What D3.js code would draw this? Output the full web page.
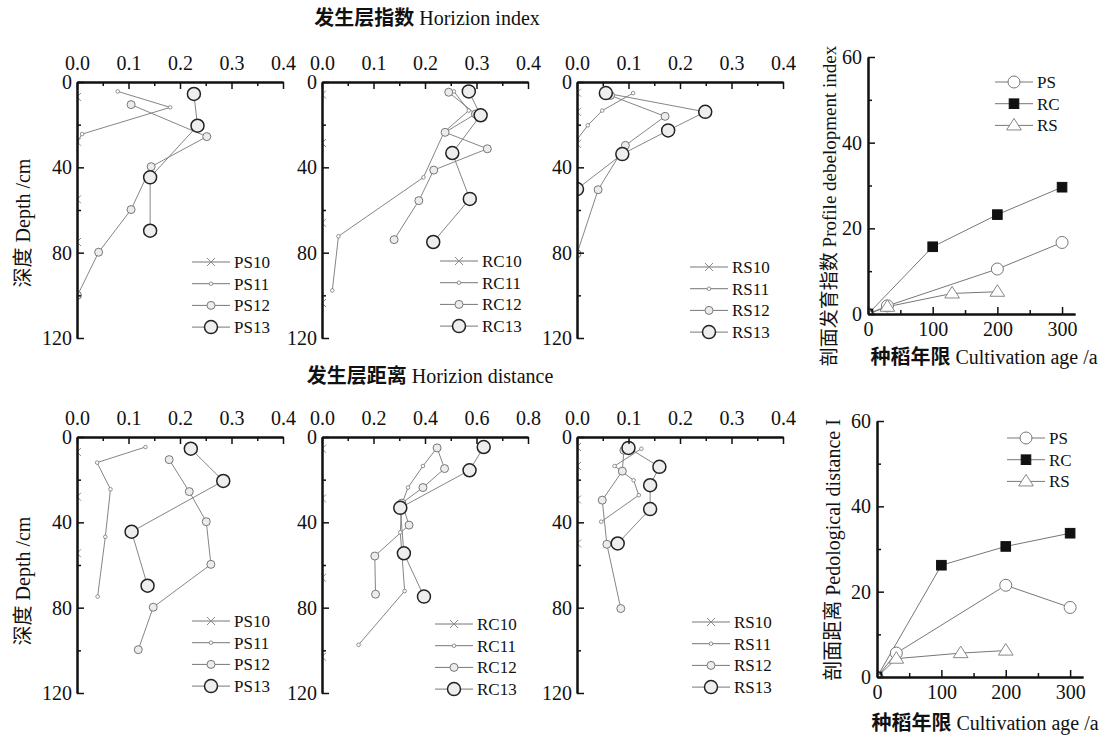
<!DOCTYPE html>
<html>
<head>
<meta charset="utf-8">
<script src="https://cdn.jsdelivr.net/npm/d3@7"></script>
<style>
body { margin: 0; background: #fff; }
svg text { font-family: "Liberation Serif", "Noto Sans CJK SC", serif; }
svg tspan.cjk { font-family: "Noto Sans CJK SC", sans-serif; }
</style>
</head>
<body>
<svg width="1105" height="736"></svg>
<script>
// depth profile data, each point is [value, depth cm]
// horizon index
var hiPS10 = [[0,7],[0,28],[0,55],[0,75]];
var hiPS11 = [[0.079,4.4],[0.181,11.9],[0.01,24.4],[0,28]];
var hiPS12 = [[0.105,10.6],[0.252,25.6],[0.144,39.7],[0.105,59.8],[0.042,79.8],[0.001,100]];
var hiPS13 = [[0.227,5.6],[0.234,20.5],[0.142,44.7],[0.142,69.7]];

var hiRC10 = [[0,5.9],[0,28.6],[0,66],[0,103.6]];
var hiRC11 = [[0.256,4.4],[0.285,13.4],[0.237,23.5],[0.197,44.7],[0.032,72.3],[0.02,97.7]];
var hiRC12 = [[0.246,4.8],[0.298,15],[0.239,23.6],[0.321,31.3],[0.217,41.3],[0.188,55.6],[0.14,73.9]];
var hiRC13 = [[0.285,4.4],[0.308,15.6],[0.253,33.3],[0.287,54.8],[0.216,75]];

var hiRS10 = [[0,5],[0,14],[0,29]];
var hiRS11 = [[0.109,5.2],[0.049,13.4],[0.021,20.3],[0,27]];
var hiRS12 = [[0.065,6.3],[0.171,16.1],[0.094,29.7],[0.041,50.5],[0,80.5]];
var hiRS13 = [[0.056,5.2],[0.249,14],[0.177,22.7],[0.088,33.8],[0,50.2]];

// horizon distance
var hdPS10 = [[0,7],[0,28],[0,54.5]];
var hdPS11 = [[0.133,4.7],[0.039,12],[0.065,24.5],[0.055,46.8],[0.04,74.8]];
var hdPS12 = [[0.179,10.6],[0.218,25.6],[0.251,39.7],[0.26,59.7],[0.148,79.8],[0.119,99.7]];
var hdPS13 = [[0.221,5.5],[0.284,20.6],[0.106,44.4],[0.137,69.7]];

var hdRC10 = [[0,5.5],[0,28.8],[0,66],[0,103]];
var hdRC11 = [[0.447,5],[0.392,13.6],[0.334,23.7],[0.31,31.5],[0.304,44.7],[0.321,72.2],[0.142,97.4]];
var hdRC12 = [[0.447,5.1],[0.476,14.8],[0.392,23.7],[0.31,31],[0.338,41.3],[0.205,55.8],[0.208,73.7]];
var hdRC13 = [[0.628,4.7],[0.573,15.6],[0.304,33.2],[0.318,54.5],[0.396,74.8]];

var hdRS10 = [[0,4.7],[0,13.6],[0,29.3],[0,49.9]];
var hdRS11 = [[0.125,5.5],[0.073,13.6],[0.11,20.3],[0.12,27.3],[0.047,39.7]];
var hdRS12 = [[0.091,6.2],[0.088,16],[0.049,29.6],[0.058,50.3],[0.085,80.4]];
var hdRS13 = [[0.1,5.1],[0.16,14],[0.142,22.6],[0.142,33.8],[0.079,49.9]];

// cultivation age panels
var agePS = [0, 30, 200, 300];
var ageRC = [0, 100, 200, 300];
var ageRS = [0, 30, 130, 200];
var pdiPS = [0, 1.9, 10.5, 16.7];
var pdiRC = [0, 15.7, 23.2, 29.6];
var pdiRS = [0, 1.7, 4.8, 5.2];
var pdPS = [0, 5.6, 21.5, 16.3];
var pdRC = [0, 26.2, 30.6, 33.7];
var pdRS = [0, 4.3, 5.6, 6.2];

var depthTicks = [0, 40, 80, 120];
var depthMinor = [20, 60, 100];
var ageTicks = [0, 100, 200, 300];
var ageMinor = [50, 150, 250];
var idxTicks = [0, 20, 40, 60];
var idxMinor = [10, 30, 50];

var svg = d3.select("svg");
var clipCount = 0;

var depthStyles = [
  {shape: "cross", size: 4, stroke: "#8a8a8a", fill: "none", sw: 1},
  {shape: "circle", size: 1.8, stroke: "#777", fill: "#fff", sw: 0.8},
  {shape: "circle", size: 4, stroke: "#777", fill: "#ececec", sw: 1},
  {shape: "circle", size: 6.5, stroke: "#222", fill: "#eee", sw: 1.5}
];
var ageStyles = [
  {shape: "circle", size: 6, stroke: "#777", fill: "#fff", sw: 1},
  {shape: "square", size: 4.8, stroke: "#111", fill: "#111", sw: 1},
  {shape: "triangle", size: 7, stroke: "#888", fill: "#fff", sw: 1}
];

function marker(g, px, py, st) {
  if (st.shape == "circle") {
    g.append("circle").attr("cx", px).attr("cy", py).attr("r", st.size)
      .attr("fill", st.fill).attr("stroke", st.stroke).attr("stroke-width", st.sw);
  } else if (st.shape == "cross") {
    var s = st.size;
    g.append("path").attr("d", "M" + (px - s) + "," + (py - s) + "L" + (px + s) + "," + (py + s) +
        "M" + (px - s) + "," + (py + s) + "L" + (px + s) + "," + (py - s))
      .attr("fill", "none").attr("stroke", st.stroke).attr("stroke-width", st.sw);
  } else if (st.shape == "square") {
    g.append("rect").attr("x", px - st.size).attr("y", py - st.size)
      .attr("width", st.size * 2).attr("height", st.size * 2)
      .attr("fill", st.fill).attr("stroke", st.stroke).attr("stroke-width", st.sw);
  } else {
    var t = st.size;
    g.append("path").attr("d", "M" + px + "," + (py - t) + "L" + (px + t * 1.05) + "," + (py + t * 0.65) +
        "L" + (px - t * 1.05) + "," + (py + t * 0.65) + "Z")
      .attr("fill", st.fill).attr("stroke", st.stroke).attr("stroke-width", st.sw);
  }
}

function styleAxis(a) {
  a.attr("font-family", null);
  a.select(".domain").attr("stroke", "#111").attr("stroke-width", 2);
  a.selectAll(".tick line").attr("stroke", "#111").attr("stroke-width", 1.5);
  a.selectAll("text").attr("font-size", 20).attr("fill", "#111")
    .style("font-family", "'Liberation Serif', serif");
}

function legend(g, lx, ly, names, styles) {
  names.forEach(function(n, i) {
    var yy = ly + i * 21.7;
    g.append("line").attr("x1", lx).attr("x2", lx + 38).attr("y1", yy).attr("y2", yy)
      .attr("stroke", "#777").attr("stroke-width", 1);
    marker(g, lx + 19, yy, styles[i]);
    g.append("text").attr("x", lx + 42).attr("y", yy + 6).attr("font-size", 17)
      .attr("fill", "#111").style("font-family", "'Liberation Serif', serif").text(n);
  });
}

function depthPanel(cfg) {
  var g = svg.append("g").attr("transform", "translate(" + cfg.x + "," + cfg.y + ")");
  var x = d3.scaleLinear().domain([0, cfg.xMax]).range([0, 206]);
  var y = d3.scaleLinear().domain([0, 120]).range([0, 256]);

  var id = "clip" + (clipCount++);
  g.append("clipPath").attr("id", id).append("rect").attr("width", 206).attr("height", 256);
  var plot = g.append("g").attr("clip-path", "url(#" + id + ")");

  var line = d3.line()
      .x(function(d) { return x(d[0]); })
      .y(function(d) { return y(d[1]); });

  cfg.series.forEach(function(s) {
    plot.append("path").datum(s).attr("d", line)
      .attr("fill", "none").attr("stroke", "#777").attr("stroke-width", 0.9);
  });
  cfg.series.forEach(function(s, i) {
    s.forEach(function(d) { marker(plot, x(d[0]), y(d[1]), depthStyles[i]); });
  });

  var step = cfg.xMax / 4;
  var xMaj = d3.range(0, 5).map(function(i) { return i * step; });
  var xMin = d3.range(0, 4).map(function(i) { return (i + 0.5) * step; });

  g.append("g").call(d3.axisTop(x).tickValues(xMin).tickFormat("").tickSize(-4).tickSizeOuter(0))
    .call(styleAxis);
  g.append("g").call(d3.axisTop(x).tickValues(xMaj).tickFormat(d3.format(".1f"))
      .tickSize(-7).tickSizeOuter(0).tickPadding(12))
    .call(styleAxis);
  g.append("g").call(d3.axisLeft(y).tickValues(depthMinor).tickFormat("").tickSize(-4).tickSizeOuter(0))
    .call(styleAxis);
  g.append("g").call(d3.axisLeft(y).tickValues(depthTicks).tickSize(-7).tickSizeOuter(0).tickPadding(5))
    .call(styleAxis);

  legend(g, cfg.lx, cfg.ly, cfg.names, depthStyles);
}

function agePanel(cfg) {
  var g = svg.append("g").attr("transform", "translate(" + cfg.x + "," + cfg.y + ")");
  var x = d3.scaleLinear().domain([0, 320]).range([0, cfg.w]);
  var y = d3.scaleLinear().domain([0, 60]).range([cfg.h, 0]);

  var id = "clip" + (clipCount++);
  g.append("clipPath").attr("id", id).append("rect").attr("width", cfg.w).attr("height", cfg.h);
  var plot = g.append("g").attr("clip-path", "url(#" + id + ")");

  var line = d3.line()
      .x(function(d) { return x(d[0]); })
      .y(function(d) { return y(d[1]); });

  var pts = cfg.series.map(function(s) {
    return s.ages.map(function(a, i) { return [a, s.vals[i]]; });
  });
  pts.forEach(function(p) {
    plot.append("path").datum(p).attr("d", line)
      .attr("fill", "none").attr("stroke", "#777").attr("stroke-width", 1);
  });
  pts.forEach(function(p, i) {
    p.forEach(function(d) { marker(plot, x(d[0]), y(d[1]), ageStyles[i]); });
  });

  g.append("g").attr("transform", "translate(0," + cfg.h + ")")
    .call(d3.axisBottom(x).tickValues(ageMinor).tickFormat("").tickSize(-4).tickSizeOuter(0))
    .call(styleAxis);
  g.append("g").attr("transform", "translate(0," + cfg.h + ")")
    .call(d3.axisBottom(x).tickValues(ageTicks).tickSize(-7).tickSizeOuter(0).tickPadding(8))
    .call(styleAxis);
  g.append("g").call(d3.axisLeft(y).tickValues(idxMinor).tickFormat("").tickSize(-4).tickSizeOuter(0))
    .call(styleAxis);
  g.append("g").call(d3.axisLeft(y).tickValues(idxTicks).tickSize(-7).tickSizeOuter(0).tickPadding(6))
    .call(styleAxis);

  legend(g, cfg.lx, cfg.ly, ["PS", "RC", "RS"], ageStyles);
}

// top row: horizon index
depthPanel({x: 77, y: 82, xMax: 0.4, series: [hiPS10, hiPS11, hiPS12, hiPS13],
  names: ["PS10", "PS11", "PS12", "PS13"], lx: 115, ly: 180});
depthPanel({x: 322, y: 82, xMax: 0.4, series: [hiRC10, hiRC11, hiRC12, hiRC13],
  names: ["RC10", "RC11", "RC12", "RC13"], lx: 118, ly: 179});
depthPanel({x: 577, y: 82, xMax: 0.4, series: [hiRS10, hiRS11, hiRS12, hiRS13],
  names: ["RS10", "RS11", "RS12", "RS13"], lx: 113, ly: 185});

// bottom row: horizon distance
depthPanel({x: 77, y: 437, xMax: 0.4, series: [hdPS10, hdPS11, hdPS12, hdPS13],
  names: ["PS10", "PS11", "PS12", "PS13"], lx: 115, ly: 184});
depthPanel({x: 322, y: 437, xMax: 0.8, series: [hdRC10, hdRC11, hdRC12, hdRC13],
  names: ["RC10", "RC11", "RC12", "RC13"], lx: 113, ly: 187});
depthPanel({x: 577, y: 437, xMax: 0.4, series: [hdRS10, hdRS11, hdRS12, hdRS13],
  names: ["RS10", "RS11", "RS12", "RS13"], lx: 115, ly: 185});

agePanel({x: 868, y: 57, w: 207, h: 257,
  series: [{ages: agePS, vals: pdiPS}, {ages: ageRC, vals: pdiRC}, {ages: ageRS, vals: pdiRS}],
  lx: 127, ly: 25});
agePanel({x: 877, y: 421, w: 206, h: 256,
  series: [{ages: agePS, vals: pdPS}, {ages: ageRC, vals: pdRC}, {ages: ageRS, vals: pdRS}],
  lx: 130, ly: 17});

// titles and axis labels: chinese part then latin part
function cjkLabel(x, y, rot, size, cjk, isBold, latin) {
  var t = svg.append("text").attr("text-anchor", "middle").attr("font-size", size).attr("fill", "#111");
  if (rot) t.attr("transform", "translate(" + x + "," + y + ") rotate(-90)").attr("dy", "0.35em");
  else t.attr("x", x).attr("y", y);
  t.append("tspan").attr("class", "cjk")
    .attr("font-weight", isBold ? "bold" : "normal").text(cjk);
  t.append("tspan").style("font-family", "'Liberation Serif', serif").text(latin);
}

cjkLabel(427, 25, false, 20, "发生层指数", true, " Horizion index");
cjkLabel(430, 383, false, 20, "发生层距离", true, " Horizion distance");
cjkLabel(23, 223, true, 20, "深度", false, " Depth /cm");
cjkLabel(23, 581, true, 20, "深度", false, " Depth /cm");
cjkLabel(829, 206, true, 19, "剖面发育指数", false, " Profile debelopment index");
cjkLabel(833, 550, true, 20, "剖面距离", false, " Pedological distance I");
cjkLabel(984, 364, false, 20, "种稻年限", true, " Cultivation age /a");
cjkLabel(985, 730, false, 20, "种稻年限", true, " Cultivation age /a");
</script>
</body>
</html>
